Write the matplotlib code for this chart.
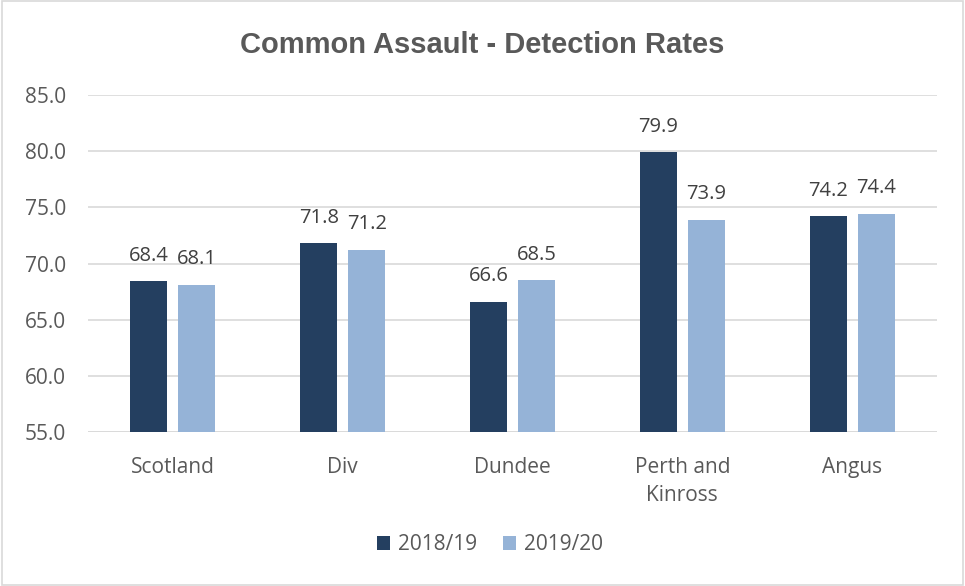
import matplotlib.pyplot as plt
import numpy as np
from matplotlib.patches import Rectangle

categories = ["Scotland", "Div", "Dundee", "Perth and\nKinross", "Angus"]
rates_1819 = [68.4, 71.8, 66.6, 79.9, 74.2]
rates_1920 = [68.1, 71.2, 68.5, 73.9, 74.4]
series_labels = ["2018/19", "2019/20"]

dark = "#243F60"
light = "#95B3D7"
text_col = "#595959"

plt.rcParams['font.family'] = ['Open Sans', 'DejaVu Sans']

fig = plt.figure(figsize=(9.65, 5.86), dpi=100)
ax = fig.add_axes([88 / 965, 1 - 432 / 586, (937 - 88) / 965, (432 - 95) / 586])

x = np.arange(len(categories))
w = 0.218
off = 0.141
b1 = ax.bar(x - off, np.array(rates_1819) - 55, w, bottom=55, color=dark, label=series_labels[0], zorder=3)
b2 = ax.bar(x + off, np.array(rates_1920) - 55, w, bottom=55, color=light, label=series_labels[1], zorder=3)

for bars, vals in ((b1, rates_1819), (b2, rates_1920)):
    for r, v in zip(bars, vals):
        ax.text(r.get_x() + r.get_width() / 2, v + 1.4, f"{v:.1f}", ha='center', va='bottom',
                fontsize=14.5, color="#404040")

ax.set_xlim(-0.5, len(categories) - 0.5)
ax.set_ylim(55, 85)
ax.set_yticks(np.arange(55, 86, 5))
ax.set_yticklabels([f"{t:.1f}" for t in np.arange(55, 86, 5)])
ax.set_xticks(x)
ax.set_xticklabels(categories, linespacing=1.45)
ax.tick_params(axis='y', length=0, labelsize=15, labelcolor=text_col, pad=16)
ax.tick_params(axis='x', length=0, labelsize=15, labelcolor=text_col, pad=18)
ax.yaxis.grid(True, color="#D9D9D9", linewidth=1.2, zorder=0)
for s in ax.spines.values():
    s.set_visible(False)
ax.axhline(55, color="#D9D9D9", linewidth=1.2, zorder=2)

fig.text(0.5, 1 - 45 / 586, "Common Assault - Detection Rates", ha='center', va='center',
         fontsize=21, fontweight='bold', color=text_col, family=['Liberation Sans', 'DejaVu Sans'])

fig.legend(loc='center', bbox_to_anchor=(490 / 965, 1 - 545 / 586), ncol=2, frameon=False,
           fontsize=15, labelcolor=text_col, handlelength=0.65, handleheight=0.65,
           handletextpad=0.4, columnspacing=1.2)

fig.patches.append(Rectangle((0.002, 0.002), 0.996, 0.996, transform=fig.transFigure,
                             fill=False, edgecolor="#D9D9D9", linewidth=1.2))

fig.savefig("out.png", dpi=100)
